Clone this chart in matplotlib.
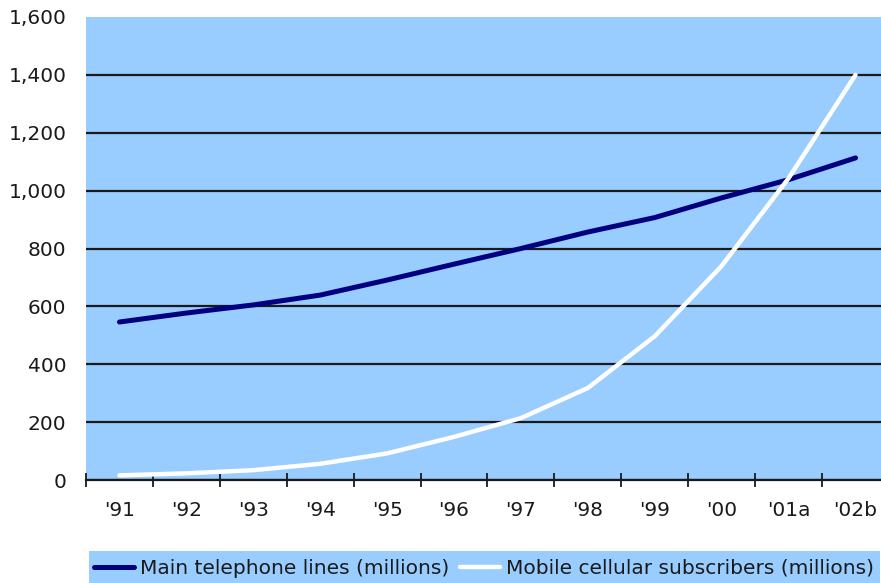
import matplotlib
matplotlib.use("Agg")
import matplotlib.pyplot as plt
from matplotlib.patches import Rectangle
from matplotlib.ticker import FuncFormatter

plt.rcParams['font.family'] = ['DejaVu Sans']

years = ["'91", "'92", "'93", "'94", "'95", "'96", "'97", "'98", "'99", "'00", "'01a", "'02b"]
main_lines = [546, 577, 605, 639, 691, 746, 800, 857, 907, 975, 1038, 1113]
mobile_subs = [16, 23, 34, 56, 92, 149, 214, 318, 497, 740, 1043, 1400]

bg = '#99CCFF'
txt = '#1a1a1a'
fs = 14.5

fig = plt.figure(figsize=(8.81, 5.83), dpi=100)
ax = fig.add_axes([86 / 881, 103 / 583, 803 / 881, 463 / 583])
ax.set_facecolor(bg)

x = list(range(len(years)))
l1, = ax.plot(x, main_lines, color='#000080', linewidth=3.6, solid_capstyle='round',
              label='Main telephone lines (millions)', zorder=3)
l2, = ax.plot(x, mobile_subs, color='white', linewidth=3.2, solid_capstyle='round',
              label='Mobile cellular subscribers (millions)', zorder=4)

ax.set_xlim(-0.5, len(years) - 0.5)
ax.set_ylim(0, 1600)
ax.set_yticks(range(0, 1601, 200))
ax.yaxis.set_major_formatter(FuncFormatter(lambda v, p: f'{int(v):,}'))
ax.yaxis.grid(True, color=txt, linewidth=1.6)
ax.set_axisbelow(True)
# no gridline along the top edge
ax.yaxis.get_gridlines()[-1].set_visible(False)

# category boundaries get the tick marks, centres get the labels
ax.set_xticks([i - 0.5 for i in range(len(years) + 1)])
ax.set_xticklabels([])
ax.set_xticks(x, minor=True)
ax.set_xticklabels(years, minor=True)
ax.tick_params(axis='x', which='major', direction='inout', length=10, width=1.3, color=txt)
ax.tick_params(axis='x', which='minor', length=0, pad=15, labelsize=fs, labelcolor=txt)
ax.tick_params(axis='y', length=0, pad=14, labelsize=fs, labelcolor=txt)

for side in ['top', 'right', 'left']:
    ax.spines[side].set_visible(False)
ax.spines['bottom'].set_color(txt)
ax.spines['bottom'].set_linewidth(1.6)

# legend strip along the bottom
fig.patches.append(Rectangle((89 / 881, 0), (880 - 89) / 881, 32 / 583,
                             transform=fig.transFigure, facecolor=bg, edgecolor='none'))
leg = fig.legend(handles=[l1, l2], loc='upper left', bbox_to_anchor=(94 / 881, 1 - 559 / 583),
                 ncol=2, frameon=False, fontsize=fs, handlelength=2.0, handletextpad=0.3,
                 columnspacing=0.5, borderaxespad=0, borderpad=0)
for t in leg.get_texts():
    t.set_color(txt)

fig.savefig('out.png', dpi=100)
